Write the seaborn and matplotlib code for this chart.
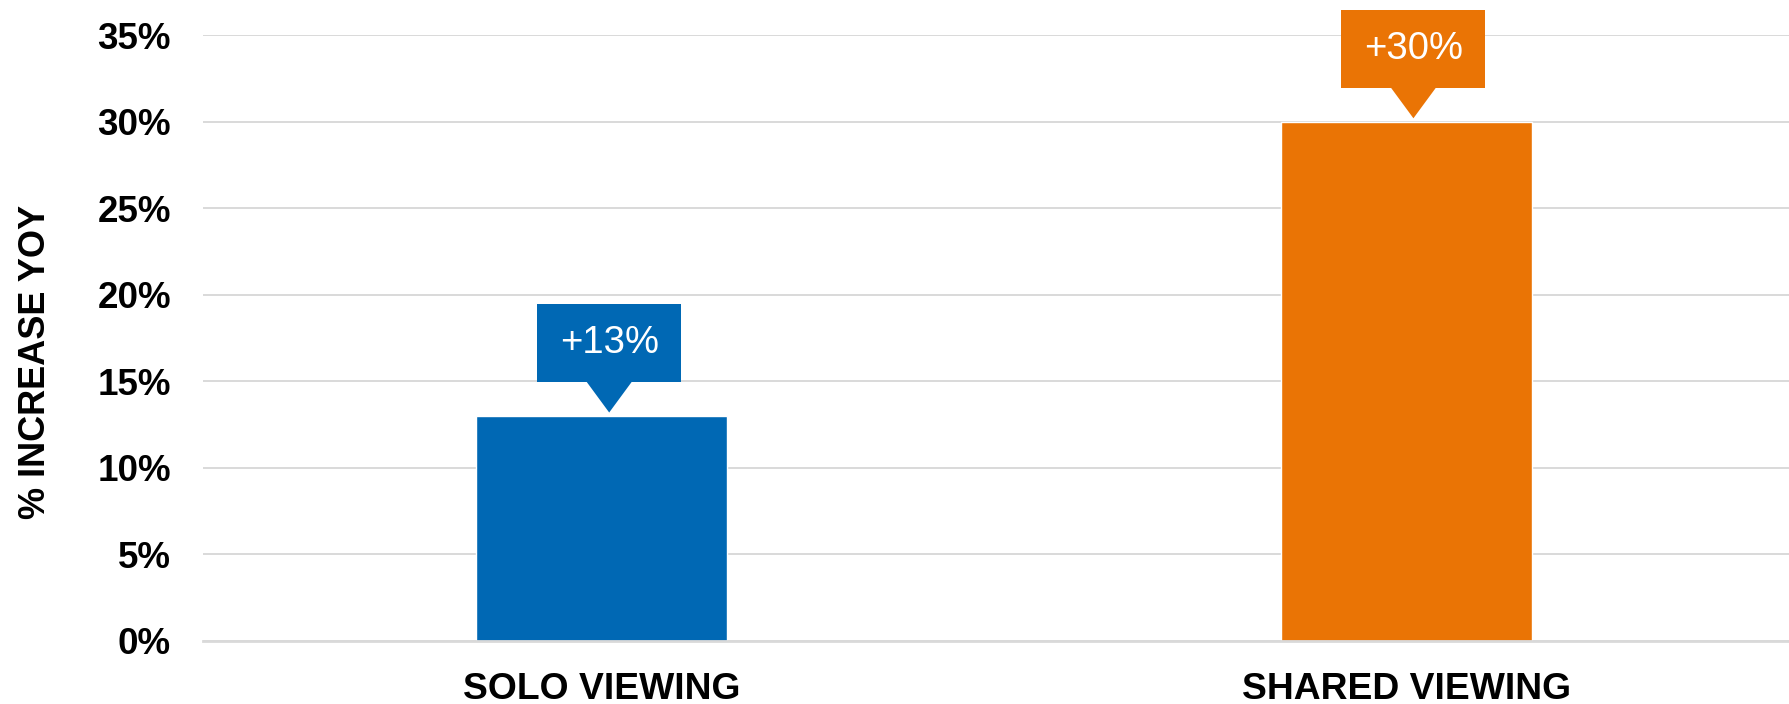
import matplotlib
matplotlib.use("Agg")
import matplotlib.pyplot as plt
import seaborn as sns
import pandas as pd
from matplotlib.patches import Rectangle, Polygon
from matplotlib.ticker import FuncFormatter, MultipleLocator

categories = ["SOLO VIEWING", "SHARED VIEWING"]
values = [13, 30]
callout_labels = ["+13%", "+30%"]
colors = ["#0068B4", "#EA7405"]

sns.set_theme(style="white")
plt.rcParams['font.family'] = ['Liberation Sans', 'DejaVu Sans']

fig = plt.figure(figsize=(17.89, 7.04), dpi=100)
ax = fig.add_axes([0.1135, 0.0895, 0.8865, 0.8605])

df = pd.DataFrame({"cat": categories, "val": values})
sns.barplot(data=df, x="cat", y="val", hue="cat", palette=colors,
            width=0.312, legend=False, ax=ax, saturation=1)

ax.set_ylim(0, 35)
ax.set_xlim(-0.496, 1.476)
ax.yaxis.set_major_locator(MultipleLocator(5))
ax.yaxis.set_major_formatter(FuncFormatter(lambda y, p: f"{int(round(y))}%"))
ax.grid(axis="y", color="#D9D9D9", linewidth=1.4)
ax.set_axisbelow(True)
for s in ["top", "right", "left"]:
    ax.spines[s].set_visible(False)
ax.spines["bottom"].set_color("#D9D9D9")
ax.spines["bottom"].set_linewidth(2)

ax.tick_params(axis="y", length=0, pad=23, labelsize=26.5)
ax.tick_params(axis="x", length=0, pad=22, labelsize=26.8)
for lab in ax.get_yticklabels() + ax.get_xticklabels():
    lab.set_fontweight("bold")
    lab.set_color("black")

ax.set_xlabel("")
ax.set_ylabel("% INCREASE YOY", fontsize=26, fontweight="bold", color="black")
ax.yaxis.set_label_coords(-0.0945, 0.46)

# callouts
box_w = 0.179
box_h = 4.5
tri_hw = 0.028
off = 0.009
for i, (v, lab, c) in enumerate(zip(values, callout_labels, colors)):
    cx = i + off
    bottom = v + 1.95
    ax.add_patch(Rectangle((cx - box_w / 2, bottom), box_w, box_h,
                           facecolor=c, edgecolor="none", clip_on=False, zorder=5))
    ax.add_patch(Polygon([(cx - tri_hw, bottom + 0.02), (cx + tri_hw, bottom + 0.02), (cx, v + 0.2)],
                         closed=True, facecolor=c, edgecolor="none", clip_on=False, zorder=5))
    ax.text(cx, bottom + box_h / 2, lab, color="white", fontsize=27.5,
            ha="center", va="center", zorder=6, clip_on=False)

fig.savefig("out.png", dpi=100)
